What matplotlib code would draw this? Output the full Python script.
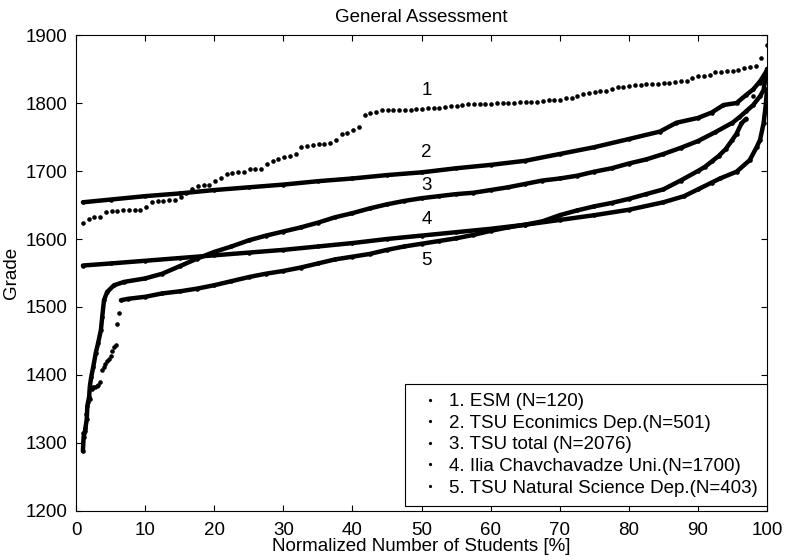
import numpy as np
import matplotlib
matplotlib.use("Agg")
import matplotlib.pyplot as plt
from matplotlib.lines import Line2D

plt.rcParams['font.family'] = ['Liberation Sans', 'DejaVu Sans']

# ---------------- data ----------------
labels = ["1. ESM (N=120)",
          "2. TSU Econimics Dep.(N=501)",
          "3. TSU total (N=2076)",
          "4. Ilia Chavchavadze Uni.(N=1700)",
          "5. TSU Natural Science Dep.(N=403)"]

# Series 1: ESM, all 120 sorted grades
esm_grades = [1624, 1630, 1633, 1633, 1639, 1641, 1641, 1642, 1642, 1643,
              1643, 1647, 1655, 1656, 1656, 1658, 1658, 1662, 1667, 1673,
              1678, 1679, 1679, 1686, 1689, 1695, 1697, 1698, 1699, 1703,
              1703, 1703, 1710, 1715, 1718, 1720, 1722, 1725, 1735, 1737,
              1738, 1739, 1739, 1741, 1746, 1754, 1756, 1761, 1765, 1783,
              1786, 1787, 1789, 1790, 1790, 1790, 1790, 1790, 1791, 1791,
              1792, 1793, 1793, 1794, 1795, 1796, 1797, 1798, 1798, 1798,
              1798.5, 1799, 1799.5, 1799.5, 1800, 1800.5, 1801, 1801, 1801.5, 1802,
              1803, 1804, 1805, 1805, 1807, 1808, 1810, 1813, 1814, 1816,
              1817, 1818, 1821, 1823, 1824, 1825, 1826, 1827, 1827.5, 1828,
              1828.5, 1829, 1830, 1831, 1832, 1833, 1837, 1839, 1840, 1841,
              1845, 1846, 1846.5, 1847.5, 1849, 1852, 1853, 1854, 1866, 1885]

# Series 2: TSU Economics
econ_pct = [1, 5, 10, 15, 20, 25, 30, 35, 40, 45, 50, 55, 60, 65, 70, 75,
            80, 84.5, 86.9, 90, 92, 93.7, 95.6, 97, 98, 99, 100]
econ_grade = [1654, 1658, 1663, 1667, 1672, 1676, 1680, 1685, 1689, 1694,
              1698, 1704, 1709, 1715, 1725, 1735, 1747, 1758, 1771, 1778,
              1786, 1797, 1800, 1812, 1820, 1832, 1848]

# Series 3: TSU total
tot_pct = [1.0, 1.1, 1.3, 1.55, 1.65, 1.9, 2.0, 2.2, 2.5, 2.85, 3.2, 3.6, 3.8,
           4.05, 4.5, 5.5, 7, 10, 12.5, 15, 17.5, 20, 22.5, 25, 27.5, 30,
           32.5, 35, 37.5, 40, 42.5, 45, 47.5, 50, 52.5, 55, 57.5, 60, 62.5,
           65, 67.5, 70, 72.5, 75, 77.5, 80, 82.5, 85, 87.5, 90, 92.5, 95,
           96, 97, 98, 99, 99.5, 100]
tot_grade = [1288, 1309, 1317, 1335, 1355, 1368, 1383, 1397, 1412, 1432, 1447,
             1466, 1486, 1510, 1522, 1532, 1537, 1542, 1549, 1560, 1571, 1581,
             1589, 1598, 1605, 1611, 1617, 1624, 1632, 1638, 1645, 1651, 1656,
             1660, 1663, 1666, 1668, 1672, 1676, 1681, 1686, 1689, 1693, 1699,
             1704, 1711, 1717, 1725, 1734, 1744, 1757, 1771, 1779, 1788, 1797,
             1810, 1819, 1850]

# Series 4: Ilia Chavchavadze University
ilia_pct = [1, 5, 10, 15, 20, 25, 30, 35, 40, 45, 50, 55, 60, 65, 70, 75, 80,
            85, 88, 90, 92, 93.2, 95.6, 97.5, 98.5, 99, 99.5, 99.8, 100]
ilia_grade = [1561, 1564, 1568, 1572, 1576, 1580, 1584, 1589, 1594, 1600,
              1605, 1610, 1615, 1621, 1628, 1635, 1643, 1654, 1663, 1673,
              1683, 1689, 1699, 1716, 1735, 1746, 1770, 1795, 1820]

# Series 5: TSU Natural Science (lower tail read dot by dot, then along curve)
ns_tail_pct = [1.0, 1.25, 1.5, 1.75, 2.0, 2.25, 2.5, 2.75, 3.0, 3.25, 3.5,
               3.75, 4.0, 4.25, 4.5, 4.75, 5.0, 5.25, 5.5, 5.75, 6.0, 6.25]
ns_tail_grade = [1315, 1322, 1342, 1360, 1365, 1380, 1383, 1383, 1384, 1385,
                 1389, 1408, 1412, 1416, 1420, 1424, 1428, 1435, 1441, 1444,
                 1475, 1491]
ns_pct = [6.5, 7.5, 10, 12.5, 15, 17.5, 20, 22.5, 25, 27.5, 30, 32.5, 35, 37.5,
          40, 42.5, 45, 47.5, 50, 52.5, 55, 57.5, 60, 62.5, 65, 67.5, 70, 72.5,
          75, 77.5, 80, 82.5, 85, 87.5, 90, 91, 92, 93, 94, 95, 95.6, 96.3, 97]
ns_grade = [1510, 1512, 1515, 1520, 1523, 1527, 1532, 1538, 1544, 1549, 1553,
            1558, 1564, 1570, 1574, 1578, 1584, 1589, 1593, 1597, 1601, 1606,
            1612, 1617, 1621, 1626, 1635, 1642, 1648, 1653, 1659, 1666, 1673,
            1686, 1700, 1706, 1714, 1722, 1732, 1746, 1755, 1770, 1777]
ns_top_pct = [98, 99, 100]
ns_top_grade = [1810, 1830, 1850]

curve_label_text = ["1", "2", "3", "4", "5"]
curve_label_grade = [1818, 1727, 1678, 1628, 1568]

# ---------------- plot ----------------
FS = 13.5
fig = plt.figure(figsize=(7.85, 5.6), dpi=100)
ax = fig.add_axes([76 / 785, 1 - 511 / 560, (767 - 76) / 785, (511 - 35) / 560])

K = 'k'
MS = 3.3
LW = 3.2

esm_x = np.linspace(1, 100, len(esm_grades))
ax.plot(esm_x, esm_grades, 'o', color=K, ms=MS, mew=0)

for px, gy in [(econ_pct, econ_grade), (tot_pct, tot_grade),
               (ilia_pct, ilia_grade), (ns_pct, ns_grade)]:
    ax.plot(px, gy, '-', color=K, lw=LW, solid_capstyle='round',
            solid_joinstyle='round')
    ax.plot(px, gy, 'o', color=K, ms=MS, mew=0)

ax.plot(ns_tail_pct, ns_tail_grade, 'o', color=K, ms=MS, mew=0)
ax.plot(ns_top_pct, ns_top_grade, 'o', color=K, ms=MS, mew=0)

for t, gy in zip(curve_label_text, curve_label_grade):
    ax.text(50.7, gy, t, ha='center', va='center', fontsize=FS)

ax.set_xlim(0, 100)
ax.set_ylim(1200, 1900)
ax.set_xticks(np.arange(0, 101, 10))
ax.set_yticks(np.arange(1200, 1901, 100))
ax.tick_params(direction='in', length=4, width=0.8, top=True, right=True,
               labelsize=FS, pad=6)
ax.tick_params(axis='x', pad=8)
for s in ax.spines.values():
    s.set_linewidth(0.8)

ax.set_title("General Assessment", fontsize=FS, pad=9.5)
ax.set_xlabel("Normalized Number of Students [%]", fontsize=FS, labelpad=-1)
ax.set_ylabel("Grade", fontsize=FS, labelpad=4)

handles = [Line2D([], [], marker='o', ls='none', color=K, ms=2.3, mew=0)
           for _ in labels]
leg = ax.legend(handles, labels, loc='lower right', fontsize=FS,
                bbox_to_anchor=(1.0, 5 / 476),
                frameon=True, fancybox=False, framealpha=1, edgecolor='k',
                borderaxespad=0.0, labelspacing=0.24, handlelength=1.7,
                handletextpad=0.15, borderpad=0.5)
leg.get_frame().set_linewidth(0.8)

fig.savefig("out.png", dpi=100)
